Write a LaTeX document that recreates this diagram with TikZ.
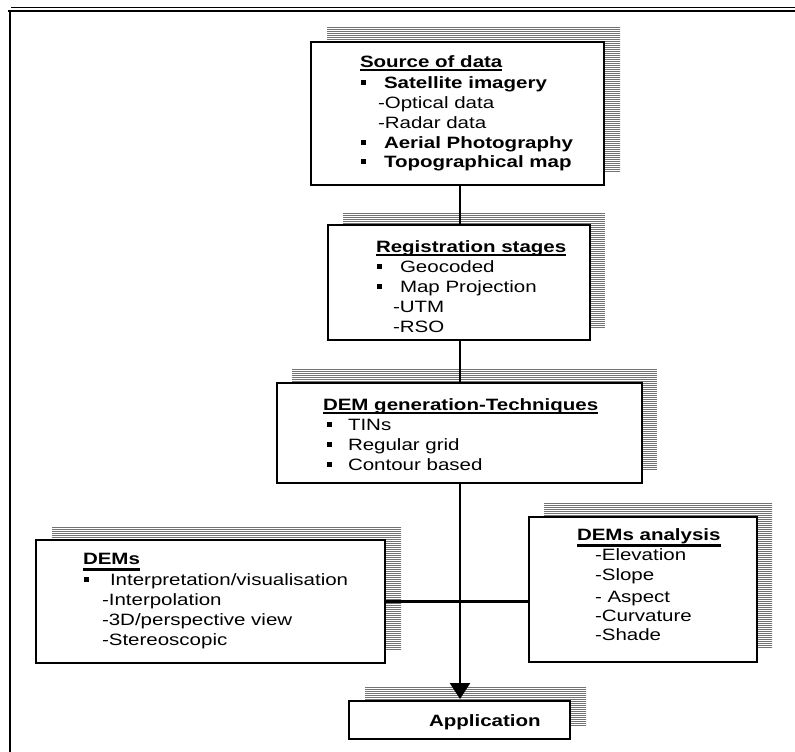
\documentclass[tikz,border=0pt]{standalone}
\usepackage{fontspec}
\setmainfont{Liberation Sans}[FakeStretch=1.25]
\usetikzlibrary{arrows.meta,patterns.meta,backgrounds}

% square bullet followed by text at a fixed indent
\newcommand\sqbul[2]{\makebox[#1][l]{\rule[3.5bp]{5bp}{5bp}}#2}
% heading with a rule below: #1 depth of rule bottom, #2 rule thickness
\newcommand\ulhead[3]{\setbox0=\hbox{#3}\rlap{\rule[-#1]{\wd0}{#2}}\box0}

\begin{document}
\begin{tikzpicture}[x=1bp, y=-1bp,
  box/.style={draw, line width=2.6bp, fill=white, rectangle,
    inner sep=0pt, outer sep=0pt, anchor=north west},
  lbl/.style={anchor=base west, inner sep=0pt, outer sep=0pt,
    font=\fontsize{16.4bp}{20bp}\selectfont},
  hlbl/.style={lbl, font=\fontsize{16.4bp}{20bp}\selectfont\bfseries},
  hatchshadow/.style={pattern={Lines[angle=0,distance=2bp,line width=1bp]},
    pattern color=black!55},
  link/.style={line width=2.4bp}]
\useasboundingbox (0,0) rectangle (795,752);

% page frame
\draw[line width=1bp] (11,8) -- (795,8);
\draw[line width=2.6bp] (8,11) -- (795,11);
\draw[line width=2.6bp] (10,10) -- (10,752);

% boxes
\node[box, minimum width=293bp, minimum height=143bp] (src) at (311,42) {};
\node[box, minimum width=262bp, minimum height=115bp] (reg) at (328,225) {};
\node[box, minimum width=365bp, minimum height=100bp] (dem) at (277,383) {};
\node[box, minimum width=349bp, minimum height=123bp] (dems) at (36,540) {};
\node[box, minimum width=228bp, minimum height=145bp] (ana) at (529,517) {};
\node[box, minimum width=221bp, minimum height=38bp] (app) at (349,701) {};

% hatched drop shadows
\begin{scope}[on background layer]
  \foreach \b/\dx/\dy in {src/16/-14, reg/15/-12, dem/15/-14, dems/16/-14, ana/15/-14, app/16/-14}
    \path[hatchshadow] ([shift={(\dx,\dy)}]\b.south west) rectangle ([shift={(\dx,\dy)}]\b.north east);
\end{scope}

% connectors
\coordinate (spine) at (460,0);
\draw[link] (src.south -| spine) -- (reg.north -| spine);
\draw[link] (reg.south -| spine) -- (dem.north -| spine);
\draw[link] (dems.east) -- (dems.east -| ana.west);
\draw[link, shorten >=2bp, -{Triangle[width=20bp,length=16bp]}] (dem.south -| spine) -- (app.north -| spine);

% source of data
\node[hlbl] (s0) at (360,68) {\ulhead{3bp}{2.2bp}{Source of data}};
\node[hlbl] (s1) at (361,88) {\sqbul{23bp}{Satellite imagery}};
\node[lbl] (s2) at (378,108) {-Optical data};
\node[lbl] (s3) at (378,128.5) {-Radar data};
\node[hlbl] (s4) at (361,148) {\sqbul{23bp}{Aerial Photography}};
\node[hlbl] (s5) at (361,167.5) {\sqbul{23bp}{Topographical map}};

% registration
\node[hlbl] (r0) at (376,252.7) {\ulhead{3.5bp}{2bp}{Registration stages}};
\node[lbl] (r1) at (377,272) {\sqbul{23bp}{Geocoded}};
\node[lbl] (r2) at (377,292) {\sqbul{23bp}{Map Projection}};
\node[lbl] (r3) at (393,312) {-UTM};
\node[lbl] (r4) at (393,332) {-RSO};

% DEM generation
\node[hlbl] (g0) at (323,410) {\ulhead{4bp}{2bp}{DEM generation-Techniques}};
\node[lbl] (g1) at (327,430.5) {\sqbul{21bp}{TINs}};
\node[lbl] (g2) at (327,450) {\sqbul{21bp}{Regular grid}};
\node[lbl] (g3) at (327,470) {\sqbul{21bp}{Contour based}};

% DEMs
\node[hlbl] (d0) at (83,564) {\ulhead{6.7bp}{3bp}{DEMs}};
\node[lbl] (d1) at (84,585) {\sqbul{26bp}{Interpretation/visualisation}};
\node[lbl] (d2) at (102,605.7) {-Interpolation};
\node[lbl] (d3) at (102,625.7) {-3D/perspective view};
\node[lbl] (d4) at (102,645.5) {-Stereoscopic};

% DEMs analysis
\node[hlbl] (a0) at (577,540) {\ulhead{6.7bp}{2.7bp}{DEMs analysis}};
\node[lbl] (a1) at (595,560) {-Elevation};
\node[lbl] (a2) at (595,580) {-Slope};
\node[lbl] (a3) at (595,602.7) {- Aspect};
\node[lbl] (a4) at (595,621.7) {-Curvature};
\node[lbl] (a5) at (595,640.5) {-Shade};

% application
\node[hlbl] (p0) at (429,726) {Application};
\end{tikzpicture}
\end{document}
